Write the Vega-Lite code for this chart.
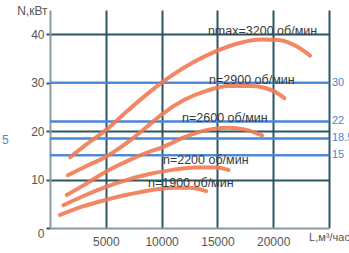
{
  "$schema": "https://vega.github.io/schema/vega-lite/v6.json",
  "width": 279,
  "height": 218,
  "autosize": {"type": "none"},
  "padding": {"left": 50, "top": 10, "right": 20, "bottom": 25},
  "background": "#ffffff",
  "config": {"view": {"stroke": null}, "font": "Liberation Sans"},
  "datasets": {
    "curves": [
      {"n": "3200", "L": 1800, "N": 14.6}, {"n": "3200", "L": 3000, "N": 16.8}, {"n": "3200", "L": 5000, "N": 20.2}, {"n": "3200", "L": 7000, "N": 24.3}, {"n": "3200", "L": 9000, "N": 28.2}, {"n": "3200", "L": 11000, "N": 31.6}, {"n": "3200", "L": 13000, "N": 34.4}, {"n": "3200", "L": 15000, "N": 36.6}, {"n": "3200", "L": 17000, "N": 38.2}, {"n": "3200", "L": 19000, "N": 38.9}, {"n": "3200", "L": 20500, "N": 38.8}, {"n": "3200", "L": 22000, "N": 37.6}, {"n": "3200", "L": 23300, "N": 35.6},
      {"n": "2900", "L": 1600, "N": 10.9}, {"n": "2900", "L": 3000, "N": 12.5}, {"n": "2900", "L": 5000, "N": 14.7}, {"n": "2900", "L": 7000, "N": 17.8}, {"n": "2900", "L": 9000, "N": 21.5}, {"n": "2900", "L": 10000, "N": 23.4}, {"n": "2900", "L": 12000, "N": 26.4}, {"n": "2900", "L": 14000, "N": 28.3}, {"n": "2900", "L": 16000, "N": 29.3}, {"n": "2900", "L": 18000, "N": 29.3}, {"n": "2900", "L": 20000, "N": 28.3}, {"n": "2900", "L": 21000, "N": 26.8},
      {"n": "2600", "L": 1500, "N": 6.8}, {"n": "2600", "L": 3000, "N": 8.8}, {"n": "2600", "L": 5000, "N": 11.6}, {"n": "2600", "L": 7000, "N": 13.9}, {"n": "2600", "L": 9000, "N": 15.8}, {"n": "2600", "L": 10000, "N": 16.6}, {"n": "2600", "L": 12000, "N": 18.7}, {"n": "2600", "L": 14000, "N": 20.2}, {"n": "2600", "L": 16000, "N": 20.7}, {"n": "2600", "L": 17500, "N": 20.3}, {"n": "2600", "L": 19000, "N": 19.1},
      {"n": "2200", "L": 1200, "N": 4.7}, {"n": "2200", "L": 3000, "N": 6.6}, {"n": "2200", "L": 5000, "N": 8.5}, {"n": "2200", "L": 7000, "N": 10.0}, {"n": "2200", "L": 9000, "N": 11.2}, {"n": "2200", "L": 11000, "N": 12.0}, {"n": "2200", "L": 13000, "N": 12.5}, {"n": "2200", "L": 14800, "N": 12.5}, {"n": "2200", "L": 16000, "N": 12.0},
      {"n": "1900", "L": 900, "N": 2.7}, {"n": "1900", "L": 3000, "N": 4.5}, {"n": "1900", "L": 5000, "N": 5.8}, {"n": "1900", "L": 7000, "N": 6.9}, {"n": "1900", "L": 9000, "N": 7.8}, {"n": "1900", "L": 11000, "N": 8.3}, {"n": "1900", "L": 12500, "N": 8.3}, {"n": "1900", "L": 14000, "N": 7.6}
    ],
    "labels": [
      {"L": 14150, "N": 40.6, "t": "nmax=3200 об/мин"},
      {"L": 14250, "N": 30.6, "t": "n=2900 об/мин"},
      {"L": 11830, "N": 22.8, "t": "n=2600 об/мин"},
      {"L": 10120, "N": 14.0, "t": "n=2200 об/мин"},
      {"L": 8780, "N": 9.3, "t": "n=1900 об/мин"}
    ],
    "blue": [
      {"N": 30, "t": "30"},
      {"N": 22, "t": "22"},
      {"N": 18.5, "t": "18.5"},
      {"N": 15, "t": "15"}
    ],
    "edge": [
      {"L": -4300, "N": 18.1, "t": "5"}
    ]
  },
  "layer": [
    {
      "data": {"name": "blue"},
      "mark": {"type": "rule", "color": "#4a86d6", "strokeWidth": 2},
      "encoding": {
        "y": {
          "field": "N", "type": "quantitative",
          "scale": {"domain": [0, 45], "nice": false, "zero": true},
          "axis": {
            "values": [0, 5, 10, 15, 20, 25, 30, 35, 40, 45],
            "title": "N,кВт",
            "titleAngle": 0,
            "titleX": -3,
            "titleY": 0,
            "titleAlign": "right",
            "titleBaseline": "middle",
            "titleFontSize": 12,
            "titleFontWeight": "normal",
            "titleColor": "#555555",
            "labelExpr": "datum.value == 45 ? '' : datum.label",
            "labelFontSize": 12,
            "labelColor": "#555555",
            "labelPadding": 2,
            "labelOverlap": false,
            "labelBaseline": {"condition": {"test": "datum.value == 0", "value": "top"}, "value": "middle"},
            "tickSize": 4,
            "tickColor": "#2b5563",
            "tickWidth": 2,
            "domainColor": "#8a9aa0",
            "domainWidth": 2,
            "grid": true,
            "gridColor": {"condition": {"test": "datum.value == 15 || datum.value == 30 || datum.value == 0", "value": "transparent"}, "value": "#2b5563"},
            "gridWidth": 2,
            "gridOpacity": 1
          }
        }
      }
    },
    {
      "data": {"name": "blue"},
      "mark": {"type": "rule", "color": "#4a86d6", "strokeWidth": 2},
      "encoding": {"y": {"field": "N", "type": "quantitative"}}
    },
    {
      "data": {"name": "curves"},
      "mark": {"type": "line", "color": "#f07a52", "strokeWidth": 4, "strokeCap": "round", "interpolate": "monotone", "opacity": 0.9},
      "encoding": {
        "x": {
          "field": "L", "type": "quantitative",
          "scale": {"domain": [0, 25000], "nice": false},
          "axis": {
            "values": [0, 5000, 10000, 15000, 20000, 25000],
            "title": null,
            "format": "d",
            "labelExpr": "datum.value == 25000 ? 'L,м³/час' : datum.value == 0 ? '' : datum.value",
            "labelFontSize": {"condition": {"test": "datum.value == 25000", "value": 11}, "value": 12},
            "labelColor": "#555555",
            "labelPadding": {"condition": {"test": "datum.value == 25000", "value": 3}, "value": 8},
            "labelFlush": false,
            "labelBound": false,
            "labelOverlap": false,
            "ticks": false,
            "domainColor": "#8a9aa0",
            "domainWidth": 2,
            "grid": true,
            "gridColor": {"condition": {"test": "datum.value == 0", "value": "transparent"}, "value": "#2b5563"},
            "gridWidth": 2,
            "gridOpacity": 1
          }
        },
        "y": {"field": "N", "type": "quantitative"},
        "detail": {"field": "n"}
      }
    },
    {
      "data": {"name": "labels"},
      "mark": {"type": "text", "align": "left", "baseline": "middle", "fontSize": 12.5, "color": "#3a3a3a"},
      "encoding": {
        "x": {"field": "L", "type": "quantitative"},
        "y": {"field": "N", "type": "quantitative"},
        "text": {"field": "t"}
      }
    },
    {
      "data": {"name": "blue"},
      "mark": {"type": "text", "align": "left", "baseline": "middle", "fontSize": 11, "color": "#4a86d6", "dx": 3},
      "encoding": {
        "x": {"datum": 25000, "type": "quantitative"},
        "y": {"field": "N", "type": "quantitative"},
        "text": {"field": "t"}
      }
    },
    {
      "data": {"name": "edge"},
      "mark": {"type": "text", "align": "left", "baseline": "middle", "fontSize": 12, "color": "#4a86d6", "clip": false},
      "encoding": {
        "x": {"field": "L", "type": "quantitative"},
        "y": {"field": "N", "type": "quantitative"},
        "text": {"field": "t"}
      }
    }
  ]
}
